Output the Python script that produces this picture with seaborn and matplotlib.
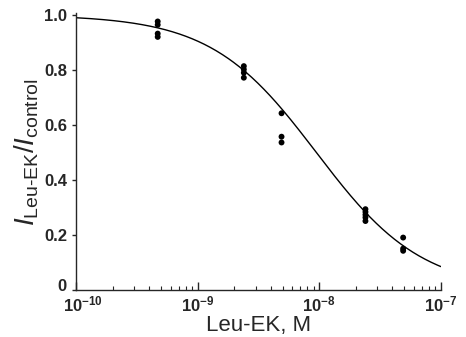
import numpy as np
import pandas as pd
import matplotlib
matplotlib.use("Agg")
import matplotlib.pyplot as plt
import matplotlib.transforms as mtransforms
import seaborn as sns

sns.set_style("ticks")
plt.rcParams['font.family'] = ['Liberation Sans', 'DejaVu Sans']
plt.rcParams['mathtext.fontset'] = 'custom'
plt.rcParams['mathtext.rm'] = 'Liberation Sans'
plt.rcParams['mathtext.it'] = 'Liberation Sans:italic'
plt.rcParams['mathtext.bf'] = 'Liberation Sans:bold'

# measured points (concentration M, normalised current)
conc = [4.7e-10] * 4 + [2.4e-9] * 4 + [4.9e-9] * 3 + [2.4e-8] * 5 + [4.9e-8] * 3
ratio = [0.976, 0.964, 0.932, 0.920,
         0.814, 0.802, 0.790, 0.772,
         0.643, 0.558, 0.537,
         0.295, 0.285, 0.275, 0.265, 0.252,
         0.192, 0.152, 0.144]

# fitted dose-response curve parameters
ic50 = 9.5e-9
hill_n = 1.0

df = pd.DataFrame({"conc": conc, "ratio": ratio})

xs = np.logspace(-10, -7, 300)
fit = pd.DataFrame({"conc": xs, "ratio": 1.0 / (1.0 + (xs / ic50) ** hill_n)})

fig = plt.figure(figsize=(4.66, 3.37), dpi=100)
ax = fig.add_axes([0.163, 0.138, 0.783, 0.822])

sns.lineplot(data=fit, x="conc", y="ratio", color="black", lw=1.0, ax=ax)
sns.scatterplot(data=df, x="conc", y="ratio", color="black", s=18,
                edgecolor="none", ax=ax)

ax.set_xscale("log")
ax.set_xlim(1e-10, 1e-7)
ax.set_ylim(0, 1.005)
ax.set_yticks([0, 0.2, 0.4, 0.6, 0.8, 1.0])
ax.set_yticklabels(["0", "0.2", "0.4", "0.6", "0.8", "1.0"])

ax.tick_params(axis="x", which="major", direction="in", length=6, width=1,
               labelsize=12, pad=3)
ax.tick_params(axis="x", which="minor", direction="in", length=3, width=0.8)
ax.tick_params(axis="y", direction="out", length=3, width=1, labelsize=12)
for lab in ax.get_xticklabels() + ax.get_yticklabels():
    lab.set_fontweight("bold")

# nudge the corner labels apart like in the original figure
fig.canvas.draw()
ylab0 = ax.get_yticklabels()[0]
ylab0.set_transform(ylab0.get_transform() +
                    mtransforms.ScaledTranslation(0, 4 / 72, fig.dpi_scale_trans))
xlab0 = [t for t in ax.get_xticklabels() if t.get_position()[0] == 1e-10][0]
xlab0.set_transform(xlab0.get_transform() +
                    mtransforms.ScaledTranslation(5 / 72, 0, fig.dpi_scale_trans))

sns.despine(ax=ax)
ax.spines["left"].set_linewidth(1.0)
ax.spines["bottom"].set_linewidth(1.0)

ax.set_xlabel("Leu-EK, M", fontsize=16, labelpad=0)
ax.set_ylabel(r"$I_{\mathrm{Leu\text{-}EK}}/I_{\mathrm{control}}$", fontsize=20,
              labelpad=2)

fig.savefig("out.png", dpi=100)
